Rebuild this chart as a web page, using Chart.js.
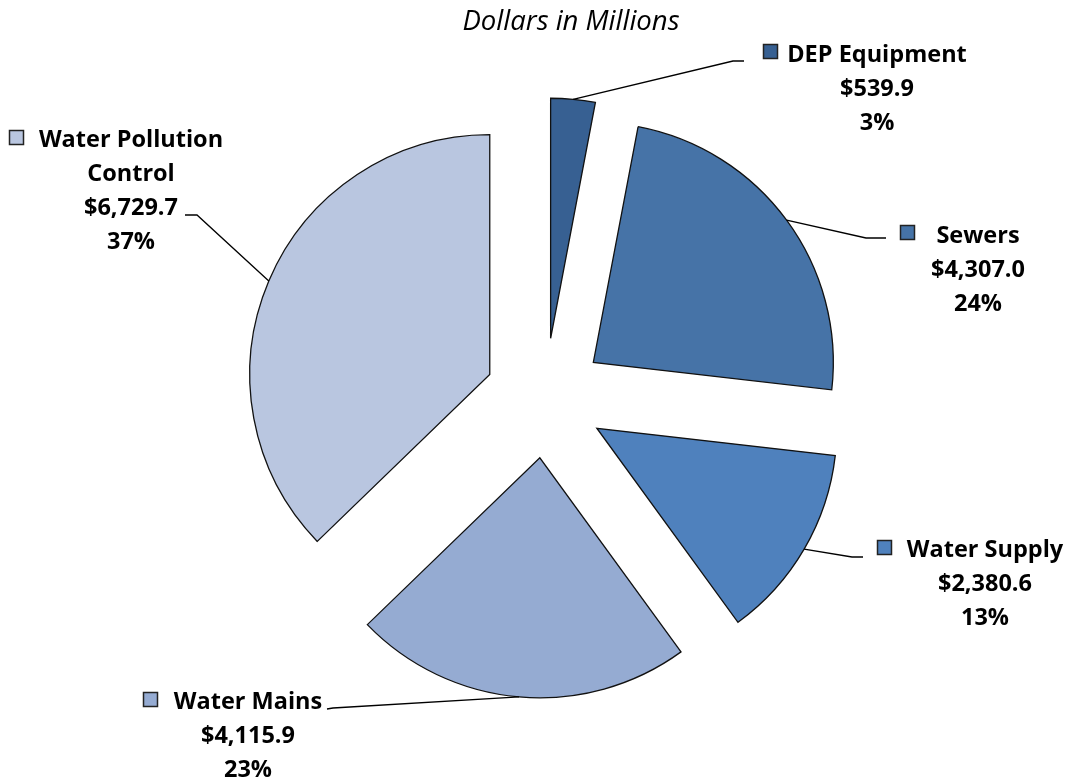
<!DOCTYPE html>
<html><head><meta charset="utf-8">
<script src="https://cdn.jsdelivr.net/npm/chart.js@4.4.1/dist/chart.umd.min.js"></script>
<style>html,body{margin:0;padding:0;background:#fff}#wrap{width:1068px;height:780px;position:relative}</style>
</head><body><div id="wrap"><canvas id="c"></canvas></div>
<script>
// ---- data ----
const categories = ["DEP Equipment", "Sewers", "Water Supply", "Water Mains", "Water Pollution Control"];
const amounts = [539.9, 4307.0, 2380.6, 4115.9, 6729.7];
const nameLines = [["DEP Equipment"], ["Sewers"], ["Water Supply"], ["Water Mains"], ["Water Pollution", "Control"]];
const sliceColors = ["#376092", "#4673a7", "#4f81bd", "#95abd2", "#b9c6e0"];
const titleText = "Dollars in Millions";

// ---- layout (label placement only) ----
const labelLayout = [
  {cx: 877, y: 62,  key: [763, 44],  elbow: [733, 61],  end: [744, 61]},
  {cx: 978, y: 243, key: [900, 225], elbow: [866, 238], end: [886, 238]},
  {cx: 985, y: 557, key: [877, 540], elbow: [852, 557], end: [863, 557]},
  {cx: 248, y: 709, key: [143, 692], elbow: [333, 708], end: [327, 709]},
  {cx: 131, y: 147, key: [9, 130],   elbow: [197, 215], end: [185, 215]}
];
const explodeDistance = 60;
const lineGap = 34;
const labelFont = "bold 23.5px 'Open Sans', Lato, sans-serif";

const total = amounts.reduce((a, b) => a + b, 0);
const fmtMoney = v => "$" + v.toLocaleString("en-US", {minimumFractionDigits: 1, maximumFractionDigits: 1});
const fmtPct = v => Math.round(v / total * 100) + "%";

const explodePlugin = {
  id: 'explode',
  beforeDatasetsDraw(chart) {
    chart.getDatasetMeta(0).data.forEach(arc => {
      if (arc._exploded) return;
      const orig = arc.draw;
      arc.draw = function (ctx, area) {
        const mid = (this.startAngle + this.endAngle) / 2;
        ctx.save();
        ctx.translate(Math.cos(mid) * explodeDistance, Math.sin(mid) * explodeDistance);
        orig.call(this, ctx, area);
        ctx.restore();
      };
      arc._exploded = true;
    });
  }
};

const labelPlugin = {
  id: 'pieLabels',
  afterDatasetsDraw(chart) {
    const ctx = chart.ctx;
    const meta = chart.getDatasetMeta(0);
    ctx.save();
    // title
    ctx.font = "italic 27.5px 'Open Sans', Lato, sans-serif";
    ctx.fillStyle = "#000";
    ctx.textAlign = "center";
    ctx.textBaseline = "alphabetic";
    ctx.fillText(titleText, 571, 30);
    meta.data.forEach((arc, i) => {
      const L = labelLayout[i];
      const mid = (arc.startAngle + arc.endAngle) / 2;
      const r = arc.outerRadius + explodeDistance;
      const ax = arc.x + Math.cos(mid) * r, ay = arc.y + Math.sin(mid) * r;
      ctx.strokeStyle = "#000";
      ctx.lineWidth = 1.3;
      ctx.beginPath();
      ctx.moveTo(ax, ay);
      ctx.lineTo(L.elbow[0], L.elbow[1]);
      ctx.lineTo(L.end[0], L.end[1]);
      ctx.stroke();
      // legend key
      ctx.fillStyle = sliceColors[i];
      ctx.fillRect(L.key[0], L.key[1], 15, 15);
      ctx.lineWidth = 1.5;
      ctx.strokeStyle = "#222";
      ctx.strokeRect(L.key[0] + 0.5, L.key[1] + 0.5, 14, 14);
      const lines = nameLines[i].concat([fmtMoney(amounts[i]), fmtPct(amounts[i])]);
      ctx.font = labelFont;
      ctx.fillStyle = "#000";
      ctx.textAlign = "center";
      lines.forEach((t, k) => ctx.fillText(t, L.cx, L.y + k * lineGap));
    });
    ctx.restore();
  }
};

new Chart(document.getElementById('c'), {
  type: 'pie',
  data: {
    labels: categories,
    datasets: [{
      data: amounts,
      backgroundColor: sliceColors,
      borderColor: "#111",
      borderWidth: 1.3,
      borderJoinStyle: 'miter',
      clip: false
    }]
  },
  options: {
    responsive: true,
    maintainAspectRatio: false,
    animation: false,
    radius: 240,
    layout: {padding: {left: 22, top: 16, right: 0, bottom: 0}},
    plugins: {legend: {display: false}, title: {display: false}, tooltip: {enabled: false}}
  },
  plugins: [explodePlugin, labelPlugin]
});
</script>
</body></html>
